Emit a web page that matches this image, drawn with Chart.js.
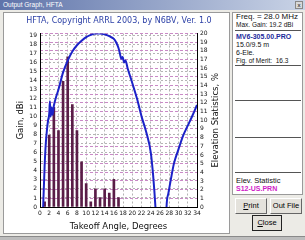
<!DOCTYPE html>
<html>
<head>
<meta charset="utf-8">
<script src="https://cdn.jsdelivr.net/npm/chart.js@4"></script>
<style>
  html, body { margin: 0; padding: 0; }
  body { width: 305px; height: 240px; position: relative; overflow: hidden;
         background: #ecebe6; font-family: "Liberation Sans", sans-serif; }
  .titlebar { position: absolute; left: 0; top: 0; width: 305px; height: 10px;
              background: linear-gradient(to right, #5f74aa, #c9d3e6); }
  .titlebar span { position: absolute; left: 3px; top: 1px; font-size: 6.5px; color: #fff; }
  .titlebar .x { position: absolute; right: 2px; top: 1px; width: 8px; height: 8px;
                 background: #d8d8d8; border: 1px solid #888; box-sizing: border-box;
                 font-size: 6px; line-height: 6px; text-align: center; color: #000; }
  .panel { position: absolute; background: #fff; border: 1px solid #9a9a9a; box-sizing: border-box; }
  #chartPanel { left: 3px; top: 12px; width: 227px; height: 222px; }
  #infoPanel { left: 232px; top: 12px; width: 71px; height: 183px; }
  canvas { position: absolute; left: 0; top: 0; }
  .t { position: absolute; left: 236px; white-space: nowrap; color: #111; }
  .rule { position: absolute; left: 235px; width: 66px; height: 0; border-top: 1px solid #555; }
  .btn { position: absolute; height: 16px; box-sizing: border-box; background: #e4e2dc;
         border: 1px solid; border-color: #fff #666 #666 #fff; font-size: 7.5px;
         line-height: 14px; text-align: center; color: #000; }
  .win { position: absolute; left: 0; bottom: 0; width: 305px; height: 3px; background: #bdbdbd;
         border-top: 1px solid #8a8a8a; }
</style>
</head>
<body>
<div class="titlebar"><span>Output Graph, HFTA</span><div class="x">x</div></div>
<div class="panel" id="chartPanel"></div>
<div class="panel" id="infoPanel"></div>

<div class="t" style="top:12px;font-size:8px;">Freq. = 28.0 MHz</div>
<div class="t" style="top:21px;font-size:6.5px;">Max. Gain: 19.2 dBi</div>
<div class="rule" style="top:30px;"></div>
<div class="t" style="top:33px;font-size:7px;font-weight:bold;color:#1c2a9c;">MV6-305.00.PRO</div>
<div class="t" style="top:41px;font-size:7px;">15.0/9.5 m</div>
<div class="t" style="top:49px;font-size:7px;">6-Ele.</div>
<div class="t" style="top:57px;font-size:6.5px;">Fig. of Merit:&nbsp; 16.3</div>
<div class="rule" style="top:65px;"></div>
<div class="rule" style="top:100px;"></div>
<div class="rule" style="top:137px;"></div>
<div class="rule" style="top:172px;"></div>
<div class="t" style="top:176px;font-size:7.5px;">Elev. Statistic</div>
<div class="t" style="top:185px;font-size:7px;font-weight:bold;color:#d01cc8;">S12-US.PRN</div>

<div class="btn" style="left:235px;top:198px;width:32px;"><u>P</u>rint</div>
<div class="btn" style="left:270px;top:198px;width:32px;">Out File</div>
<div class="btn" style="left:252px;top:215px;width:30px;border:1px solid #222;"><u>C</u>lose</div>
<div class="win"></div>

<canvas id="c" width="228" height="240"></canvas>

<script>
// takeoff angle, degrees (bars) and elevation statistics, %
const statAngles = [1, 2, 3, 4, 5, 6, 7, 8, 9, 10, 11, 12, 13, 14, 15, 16, 17];
const statPct    = [0.6, 8.3, 11.5, 8.8, 14.5, 17.3, 11.8, 8.8, 5.2, 2.7, 0.6, 2.1, 1.1, 2.1, 1.6, 3.2, 1.1];

// gain pattern, dBi
const gainAngles = [0, 0.5, 0.75, 1, 1.25, 1.5, 1.75, 2, 2.15, 2.3, 2.5, 2.7, 3, 3.5, 4, 5, 6, 7, 8, 9,
                    10, 11, 12, 13, 14, 15, 16, 16.5, 17, 17.3, 17.6, 17.9, 18.2, 18.5, 19, 20, 21, 22,
                    23, 24, 24.5, 25, 25.5, 26, 26.5, 27, 27.4, 27.8, 28.5, 29, 30, 31, 32, 33, 34];
const gainDbi    = [-12, -3, 1, 4.5, 7, 8.5, 9.6, 10.3, 11.7, 10.0, 11.0, 10.2, 11.2, 12.2, 13.0, 14.9, 16.2, 17.2, 17.9, 18.4,
                    18.8, 19.05, 19.2, 19.2, 19.1, 18.9, 18.6, 18.2, 17.6, 17.0, 16.4, 16.6, 16.0, 16.2, 15.3, 13.7, 12.0, 10.0,
                    8.3, 6.0, 3.5, 0, -5, -10, -12, -8, 0, 1.5, 3.5, 4.8, 6.4, 7.9, 9.0, 10.1, 11.3];

const FONT = 'DejaVu Sans';
const tickFont = { family: FONT, size: 6 };

// right axis title reads bottom-to-top, so draw it by hand
const rightTitle = {
  id: 'rightTitle',
  afterDraw(chart) {
    const { ctx, chartArea } = chart;
    ctx.save();
    ctx.translate(216, (chartArea.top + chartArea.bottom) / 2);
    ctx.rotate(-Math.PI / 2);
    ctx.font = `8.5px "${FONT}"`;
    ctx.fillStyle = '#111';
    ctx.textAlign = 'center';
    ctx.textBaseline = 'middle';
    ctx.fillText('Elevation Statistics, %', 0, 0);
    ctx.restore();
  }
};

new Chart(document.getElementById('c'), {
  type: 'bar',
  data: {
    datasets: [
      {
        type: 'line',
        label: 'Gain',
        data: gainAngles.map((a, i) => ({ x: a, y: gainDbi[i] })),
        yAxisID: 'y',
        borderColor: '#1c22c8',
        borderWidth: 2,
        pointRadius: 0,
        cubicInterpolationMode: 'monotone',
        order: 0
      },
      {
        label: 'Elev. Statistic',
        data: statAngles.map((a, i) => ({ x: a, y: statPct[i] })),
        yAxisID: 'y2',
        backgroundColor: '#5a1d47',
        barThickness: 2,
        order: 1
      }
    ]
  },
  options: {
    responsive: false,
    animation: false,
    layout: { padding: { left: 14, right: 4, top: 0, bottom: 8 } },
    plugins: {
      legend: { display: false },
      tooltip: { enabled: false },
      title: {
        display: true,
        text: 'HFTA, Copyright ARRL 2003, by N6BV, Ver. 1.0',
        color: '#2b3fa6',
        font: { family: FONT, size: 8, weight: 'normal', lineHeight: 1.2 },
        padding: { top: 16.2, bottom: 7.7 }
      }
    },
    scales: {
      x: {
        type: 'linear', min: 0, max: 34, offset: false,
        ticks: { stepSize: 2, font: tickFont, color: '#111', padding: 3, maxRotation: 0, autoSkip: false },
        grid: { color: '#b4b4b4', drawTicks: false, offset: false },
        border: { color: '#000', width: 1, dash: [2, 2] },
        title: { display: true, text: 'Takeoff Angle, Degrees', color: '#111',
                 font: { family: FONT, size: 8.5 }, padding: { top: 0, bottom: 0 } },
        afterFit: s => { s.height = 25; }
      },
      y: {
        position: 'left', min: 0, max: 19.2,
        ticks: { stepSize: 1, includeBounds: false, autoSkip: false, font: tickFont, color: '#111', padding: 3 },
        grid: { color: '#b4b4b4', drawTicks: false },
        border: { color: '#000', width: 1, dash: [2, 2] },
        title: { display: true, text: 'Gain, dBi', color: '#111',
                 font: { family: FONT, size: 8.5 }, padding: { top: 2, bottom: 0 } },
        afterFit: s => { s.width = 26; }
      },
      y2: {
        position: 'right', min: 0, max: 20,
        ticks: { stepSize: 1, autoSkip: false, font: tickFont, color: '#111', padding: 3 },
        grid: { color: '#c98ac6', drawTicks: false, drawOnChartArea: true },
        border: { color: '#000', width: 1, dash: [3, 2] },
        afterFit: s => { s.width = 27; }
      }
    }
  },
  plugins: [rightTitle]
});
</script>
</body>
</html>
